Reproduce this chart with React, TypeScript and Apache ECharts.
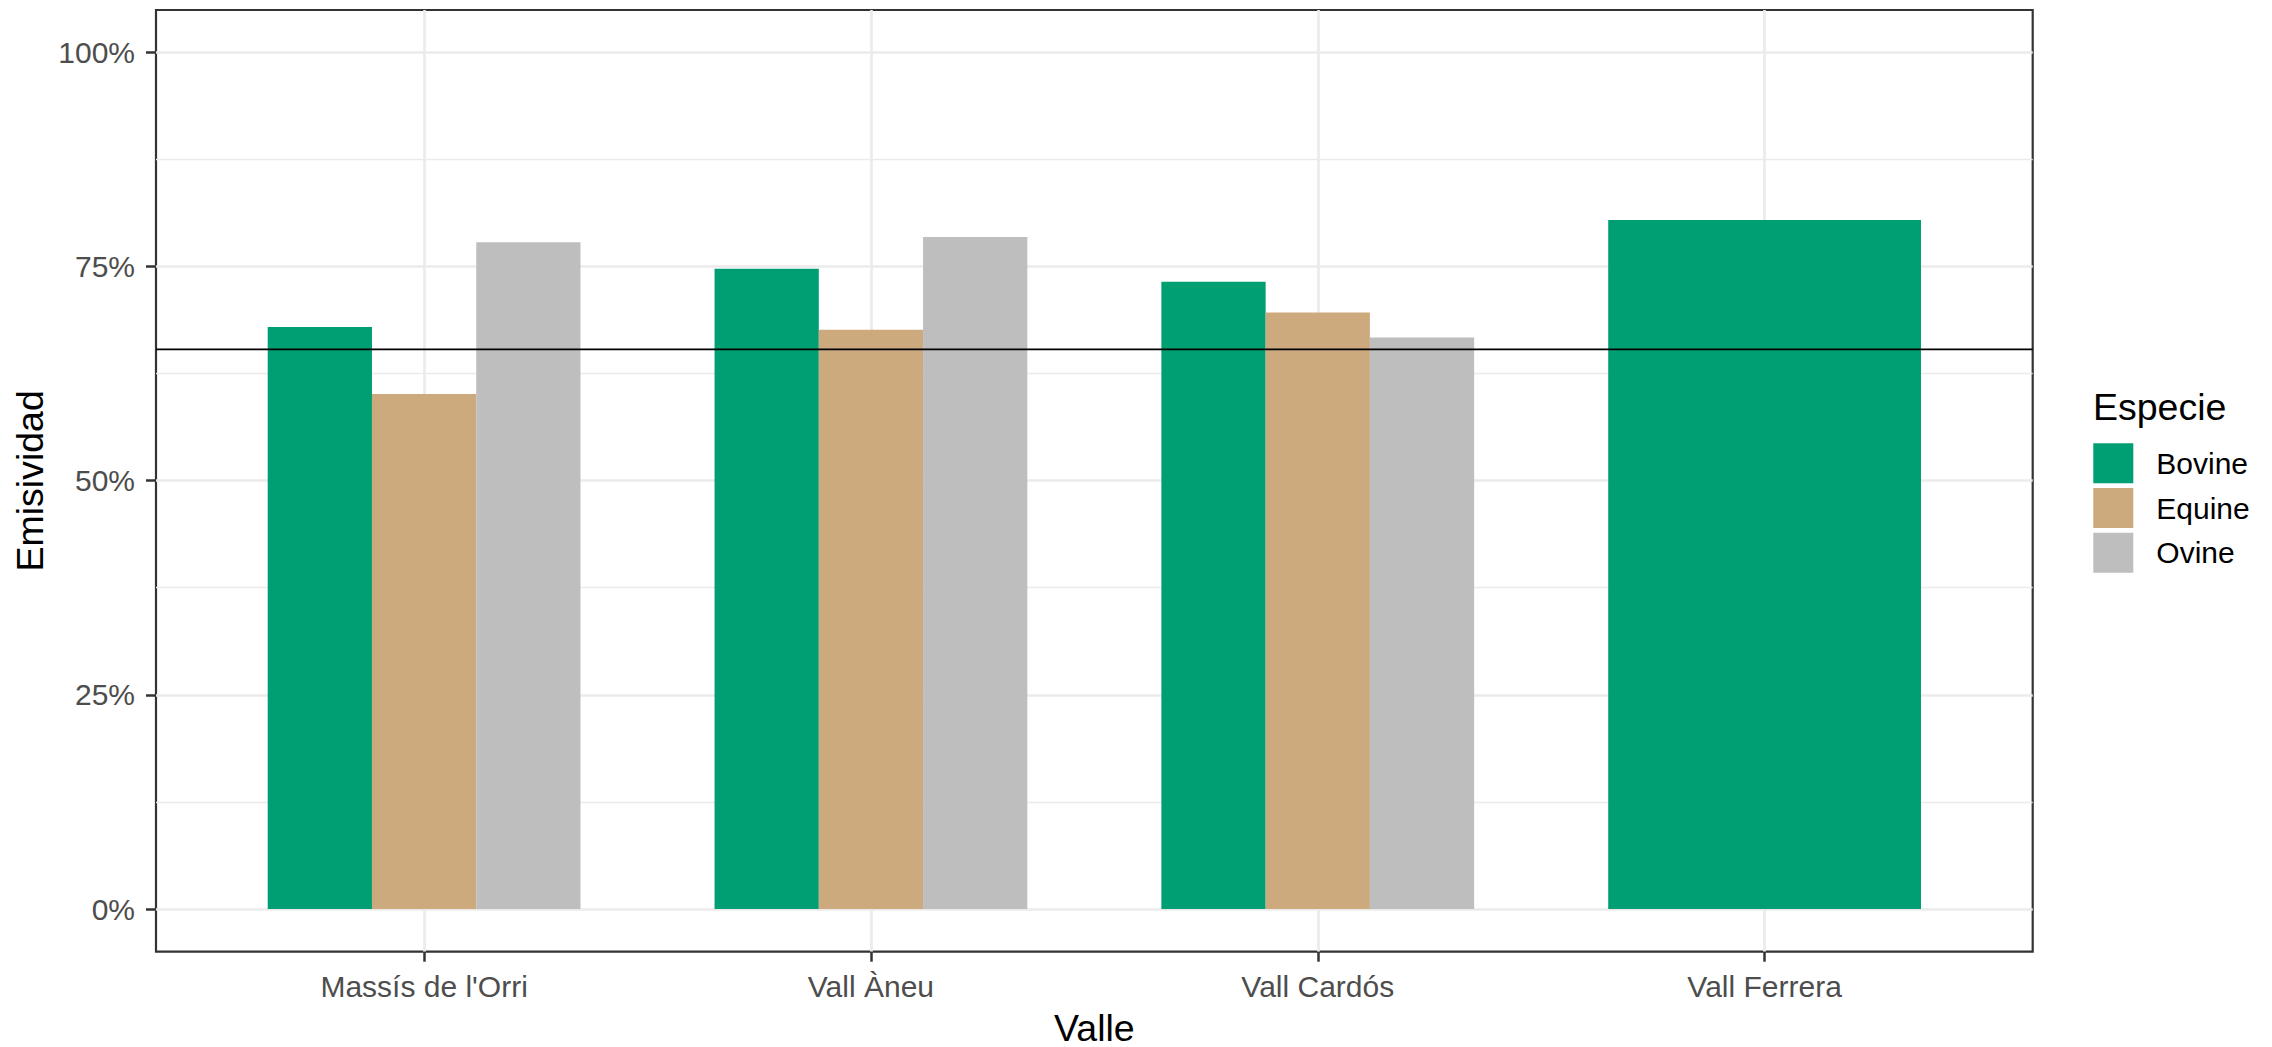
import React, { useEffect, useRef } from "react";
import * as echarts from "echarts";

const categories = ["Massís de l'Orri", "Vall Àneu", "Vall Cardós", "Vall Ferrera"];
const speciesNames = ["Bovine", "Equine", "Ovine"];
const bovine: (number | null)[] = [67.9, 74.7, 73.2, 80.4];
const equine: (number | null)[] = [60.1, 67.6, 69.6, null];
const ovine: (number | null)[] = [77.8, 78.4, 66.7, null];
const referenceValue = 65.3;

const colors = { Bovine: "#009E73", Equine: "#CDAA7D", Ovine: "#BEBEBE" };

export default function App() {
  const ref = useRef<HTMLDivElement>(null);
  useEffect(() => {
    if (!ref.current) return;
    const chart = echarts.init(ref.current, undefined, { renderer: "svg" });

    const W = 2272;
    const H = 1047;
    const pL = 156, pR = 2032.7, pT = 10, pB = 951.7;
    const unit = (pR - pL) / 4.2;
    const y0 = 909, y100 = 52;

    const solo = categories.map((_, i) => equine[i] == null && ovine[i] == null);
    const bovineGrouped = bovine.map((v, i) => (solo[i] ? null : v));
    const bovineSolo = bovine.map((v, i) => (solo[i] ? v : null));

    const font = "Liberation Sans";

    chart.setOption({
      animation: false,
      textStyle: { fontFamily: font },
      grid: [
        {
          left: pL, right: W - pR, top: pT, bottom: H - pB,
          show: true, borderColor: "#333333", borderWidth: 2.2, backgroundColor: "transparent",
          outerBoundsMode: "none",
        },
        { left: pL, right: W - pR, top: y100, bottom: H - y0, outerBoundsMode: "none" },
        { left: pL + 0.1 * unit, right: W - pR + 0.1 * unit, top: y100, bottom: H - y0, outerBoundsMode: "none" },
      ],
      xAxis: [
        {
          gridIndex: 0, type: "value", min: 0.4, max: 4.6,
          axisLine: { show: false },
          axisTick: { show: true, length: 10, customValues: [1, 2, 3, 4], lineStyle: { color: "#333333", width: 2.5 } },
          axisLabel: {
            customValues: [1, 2, 3, 4], margin: 20, fontSize: 30, color: "#4D4D4D", fontFamily: font,
            formatter: (v: number) => categories[Math.round(v) - 1] ?? "",
          },
          splitLine: { show: true, lineStyle: { color: "#EBEBEB", width: 2.7 } },
        },
        { gridIndex: 1, type: "value", min: 0, max: 1, show: false },
        { gridIndex: 2, type: "category", data: categories, show: false },
        { gridIndex: 2, type: "category", data: categories, show: false },
      ],
      yAxis: [
        { gridIndex: 0, type: "value", min: 0, max: 1, show: false },
        {
          gridIndex: 1, type: "value", min: 0, max: 100, interval: 25,
          axisLine: { show: false },
          axisTick: { show: true, length: 10, lineStyle: { color: "#333333", width: 2.5 } },
          axisLabel: { margin: 21, fontSize: 30, color: "#4D4D4D", fontFamily: font, formatter: "{value}%" },
          splitLine: { show: true, lineStyle: { color: "#EBEBEB", width: 2.7 } },
          minorTick: { show: false, splitNumber: 2 },
          minorSplitLine: { show: true, lineStyle: { color: "#EBEBEB", width: 1.3 } },
        },
        { gridIndex: 2, type: "value", min: 0, max: 100, show: false },
      ],
      legend: {
        data: speciesNames,
        orient: "vertical",
        left: 2093.3,
        top: 443.3,
        padding: 0,
        itemWidth: 40,
        itemHeight: 40,
        itemGap: 4.7,
        icon: "rect",
        selectedMode: false,
        textStyle: { fontSize: 30, color: "#000000", fontFamily: font, padding: [7, 0, 0, 18] },
      },
      graphic: [
        {
          type: "text", x: 2093, y: 407,
          style: { text: "Especie", font: `37.5px "${font}"`, fill: "#000000", textAlign: "left", textVerticalAlign: "middle" },
        },
        {
          type: "text", x: 30, y: (pT + pB) / 2, rotation: Math.PI / 2,
          style: { text: "Emisividad", font: `37.5px "${font}"`, fill: "#000000", textAlign: "center", textVerticalAlign: "middle" },
        },
        {
          type: "text", x: (pL + pR) / 2, y: 1027.5,
          style: { text: "Valle", font: `37.5px "${font}"`, fill: "#000000", textAlign: "center", textVerticalAlign: "middle" },
        },
      ],
      series: [
        {
          name: "Bovine", type: "bar", xAxisIndex: 2, yAxisIndex: 2, data: bovineGrouped,
          barCategoryGap: "30%", barGap: "0%", itemStyle: { color: colors.Bovine },
        },
        {
          name: "Equine", type: "bar", xAxisIndex: 2, yAxisIndex: 2, data: equine,
          barCategoryGap: "30%", barGap: "0%", itemStyle: { color: colors.Equine },
        },
        {
          name: "Ovine", type: "bar", xAxisIndex: 2, yAxisIndex: 2, data: ovine,
          barCategoryGap: "30%", barGap: "0%", itemStyle: { color: colors.Ovine },
        },
        {
          name: "Bovine", type: "bar", xAxisIndex: 3, yAxisIndex: 2, data: bovineSolo,
          barWidth: "70%", itemStyle: { color: colors.Bovine },
        },
        {
          name: "ref", type: "line", xAxisIndex: 1, yAxisIndex: 1, z: 5,
          data: [[0, referenceValue], [1, referenceValue]],
          symbol: "none", silent: true,
          lineStyle: { color: "#000000", width: 1.6 },
        },
      ],
    });
    return () => chart.dispose();
  }, []);
  return <div ref={ref} style={{ position: "absolute", left: 0, top: 0, width: 2272, height: 1047 }} />;
}
